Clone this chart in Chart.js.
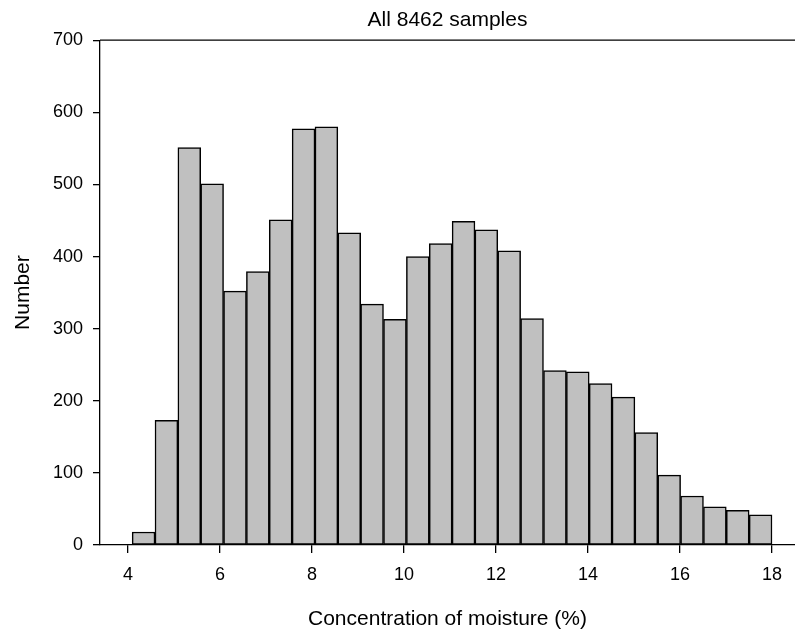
<!DOCTYPE html>
<html>
<head>
<meta charset="utf-8">
<script src="https://cdn.jsdelivr.net/npm/chart.js@4/dist/chart.umd.min.js"></script>
<style>
  html, body { margin: 0; padding: 0; background: #fff; }
  #wrap { width: 795px; height: 638px; }
</style>
</head>
<body>
<div id="wrap"><canvas id="c" width="795" height="638"></canvas></div>
<script>
// Histogram bin centres (% moisture), 28 bins
const binCenters = [4.338, 4.835, 5.332, 5.829, 6.326, 6.822, 7.319, 7.816, 8.313, 8.810,
                    9.306, 9.803, 10.300, 10.797, 11.294, 11.790, 12.287, 12.784, 13.281, 13.778,
                    14.274, 14.771, 15.268, 15.765, 16.262, 16.758, 17.255, 17.752];
// Counts per bin
const counts = [18, 173, 551, 501, 352, 379, 451, 577, 580, 433,
                334, 313, 400, 418, 449, 437, 408, 314, 242, 240,
                224, 205, 156, 97, 68, 53, 48, 42];
const xTickValues = [4, 6, 8, 10, 12, 14, 16, 18];
const yTickValues = [0, 100, 200, 300, 400, 500, 600, 700];
const titleText = 'All 8462 samples';
const xTitle = 'Concentration of moisture (%)';
const yTitle = 'Number';

const FONT = "'Liberation Sans', Arial, Helvetica, sans-serif";

const topLine = {
  id: 'topLine',
  afterDraw(chart) {
    const {ctx, chartArea} = chart;
    ctx.save();
    ctx.strokeStyle = '#000';
    ctx.lineWidth = 1.3;
    ctx.beginPath();
    ctx.moveTo(chartArea.left, chartArea.top);
    ctx.lineTo(chartArea.right, chartArea.top);
    ctx.stroke();
    ctx.restore();
  }
};

new Chart(document.getElementById('c'), {
  type: 'bar',
  data: {
    datasets: [{
      data: binCenters.map((x, i) => ({x: x, y: counts[i]})),
      backgroundColor: '#c0c0c0',
      borderColor: '#000',
      borderWidth: 1.5,
      barPercentage: 1.0,
      categoryPercentage: 1.0,
      borderSkipped: false
    }]
  },
  options: {
    responsive: false,
    animation: false,
    events: [],
    layout: { padding: 0 },
    plugins: {
      legend: { display: false },
      tooltip: { enabled: false },
      title: {
        display: true,
        text: titleText,
        fullSize: false,
        color: '#000',
        font: { family: FONT, size: 21, weight: 'normal' },
        padding: { top: 8, bottom: 7 }
      }
    },
    scales: {
      x: {
        type: 'linear',
        offset: false,
        min: 3.391,
        max: 18.5,
        afterFit: s => { s.height = 93; },
        afterBuildTicks: s => { s.ticks = xTickValues.map(v => ({value: v})); },
        grid: { display: true, offset: false, drawOnChartArea: false, drawTicks: true, tickLength: 8, color: '#000', lineWidth: 1.3 },
        border: { display: true, color: '#000', width: 1.3 },
        ticks: { color: '#000', font: { family: FONT, size: 18 }, padding: 11, maxRotation: 0, autoSkip: false },
        title: { display: true, text: xTitle, color: '#000', font: { family: FONT, size: 21 }, padding: { top: 0, bottom: 6 } }
      },
      y: {
        min: 0,
        max: 700,
        afterFit: s => { s.width = 100; },
        afterBuildTicks: s => { s.ticks = yTickValues.map(v => ({value: v})); },
        grid: { display: true, drawOnChartArea: false, drawTicks: true, tickLength: 7, color: '#000', lineWidth: 1.3 },
        border: { display: true, color: '#000', width: 1.3 },
        ticks: { color: '#000', font: { family: FONT, size: 18 }, padding: 10 },
        title: { display: true, text: yTitle, color: '#000', font: { family: FONT, size: 21 }, padding: { top: 11, bottom: 0 } }
      }
    }
  },
  plugins: [topLine]
});
</script>
</body>
</html>
